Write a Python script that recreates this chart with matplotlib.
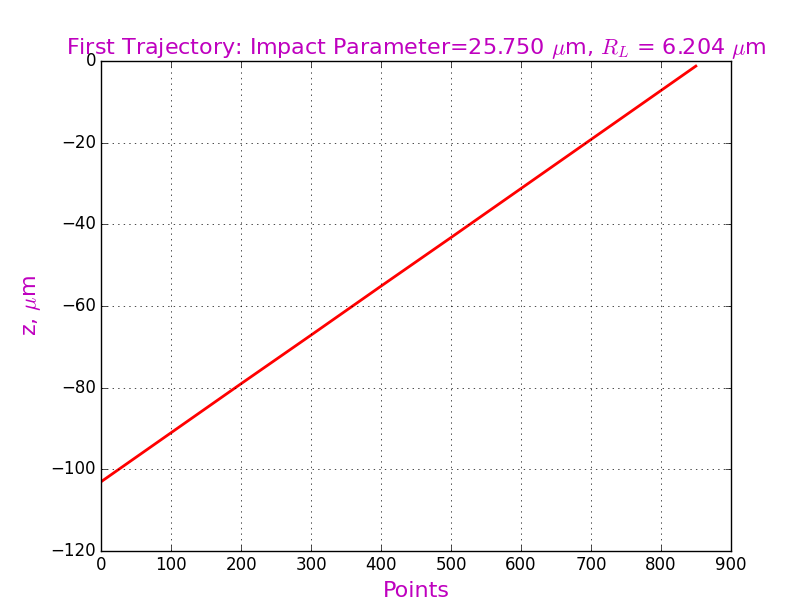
import matplotlib
matplotlib.use('Agg')
import matplotlib.pyplot as plt

# trajectory samples
points = [0, 100, 200, 300, 400, 500, 600, 700, 800, 850]
z_um = [-103.0, -91.0, -79.0, -67.1, -55.1, -43.2, -31.2, -19.2, -7.2, -1.2]

plt.style.use('classic')
fig = plt.figure(figsize=(8.12, 6.12), dpi=100)
ax = fig.add_subplot(111)
ax.plot(points, z_um, 'r-', linewidth=2)
ax.set_xlim(0, 900)
ax.set_ylim(-120, 0)
ax.grid(True)
ax.set_xlabel('Points', color='m', fontsize=16)
ax.set_ylabel(r'z, $\mu$m', color='m', fontsize=16)
ax.set_title(r'First Trajectory: Impact Parameter=25.750 $\mu$m, $R_L$ = 6.204 $\mu$m',
             color='m', fontsize=16)
fig.savefig('out.png', dpi=100, facecolor='white')
